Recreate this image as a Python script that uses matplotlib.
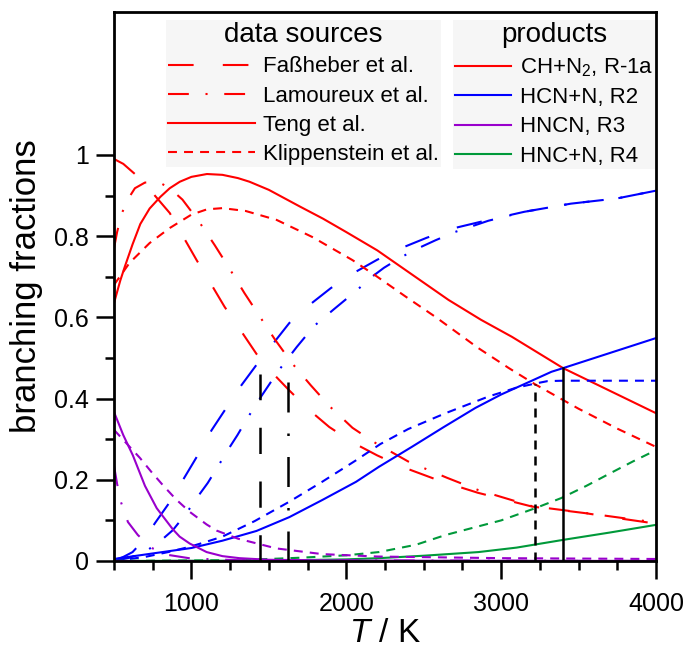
import matplotlib
matplotlib.use('Agg')
import matplotlib.pyplot as plt
from matplotlib.lines import Line2D
from matplotlib.ticker import FixedLocator, FixedFormatter

plt.rcParams['font.family'] = ['Liberation Sans', 'DejaVu Sans']
plt.rcParams['mathtext.fontset'] = 'custom'
plt.rcParams['mathtext.rm'] = 'Liberation Sans'
plt.rcParams['mathtext.it'] = 'Liberation Sans:italic'
plt.rcParams['font.size'] = 18

# ---- data ----
# R-1a  CH + N2
T_teng_r1 = [500, 540, 570, 620, 670, 730, 800, 860, 925, 1000, 1100, 1200, 1300, 1375, 1500, 1700,
             1850, 2000, 2200, 2660, 2870, 3070, 3400, 4000]
teng_r1 = [0.635, 0.69, 0.725, 0.78, 0.83, 0.868, 0.897, 0.918, 0.934, 0.946, 0.953, 0.951, 0.943, 0.934,
           0.914, 0.873, 0.843, 0.81, 0.765, 0.643, 0.594, 0.552, 0.475, 0.364]

T_klip_r1 = [500, 600, 730, 860, 1000, 1100, 1200, 1350, 1550, 1780, 2040, 2200, 2380, 2580, 2850, 3050,
             3220, 3500, 3750, 4000]
klip_r1 = [0.68, 0.734, 0.783, 0.82, 0.853, 0.866, 0.869, 0.862, 0.84, 0.798, 0.741, 0.70, 0.652, 0.60,
           0.525, 0.475, 0.435, 0.375, 0.326, 0.281]

T_fass_r1 = [500, 560, 620, 690, 750, 860, 945, 1035, 1130, 1214, 1323, 1420, 1516, 1632, 1760, 1890,
             2050, 2200, 2360, 2600, 2850, 3200, 3540, 3800, 4000]
fass_r1 = [0.99, 0.978, 0.958, 0.935, 0.906, 0.857, 0.80, 0.74, 0.68, 0.626, 0.565, 0.51, 0.466, 0.42,
           0.372, 0.33, 0.29, 0.26, 0.232, 0.198, 0.168, 0.134, 0.118, 0.103, 0.092]

T_lam_r1 = [500, 520, 551, 600, 635, 700, 790, 860, 942, 1047, 1150, 1246, 1342, 1445, 1540, 1650, 1770,
            1895, 2040, 2178, 2400, 2650, 2850, 3200, 3550, 3800, 4000]
lam_r1 = [0.77, 0.81, 0.857, 0.897, 0.918, 0.932, 0.933, 0.918, 0.89, 0.837, 0.778, 0.72, 0.66, 0.60,
          0.545, 0.487, 0.433, 0.38, 0.328, 0.293, 0.245, 0.205, 0.175, 0.135, 0.118, 0.105, 0.095]

# R2  HCN + N
T_teng_r2 = [500, 776, 1000, 1200, 1420, 1632, 1844, 2063, 2211, 2423, 2630, 2834, 3000, 3175, 3325, 3400,
             3700, 4000]
teng_r2 = [0.005, 0.02, 0.032, 0.05, 0.074, 0.108, 0.15, 0.195, 0.232, 0.281, 0.33, 0.377, 0.41, 0.44,
           0.466, 0.475, 0.512, 0.549]

T_klip_r2 = [500, 700, 850, 989, 1085, 1200, 1407, 1632, 1844, 2063, 2220, 2400, 2641, 2918, 3100, 3220,
             3300, 3400, 4000]
klip_r2 = [0.0, 0.01, 0.022, 0.035, 0.046, 0.06, 0.098, 0.146, 0.195, 0.248, 0.288, 0.325, 0.364, 0.405,
           0.427, 0.437, 0.443, 0.444, 0.444]

T_fass_r2 = [500, 560, 620, 700, 764, 860, 957, 1040, 1130, 1220, 1323, 1420, 1535, 1632, 1760, 1900,
             2060, 2200, 2358, 2519, 2700, 2918, 3150, 3450, 3750, 4000]
fass_r2 = [0.002, 0.01, 0.022, 0.055, 0.093, 0.145, 0.207, 0.26, 0.322, 0.374, 0.433, 0.483, 0.539, 0.586,
           0.63, 0.672, 0.712, 0.742, 0.771, 0.796, 0.82, 0.84, 0.86, 0.88, 0.893, 0.912]

T_lam_r2 = [500, 600, 700, 808, 880, 968, 1040, 1105, 1170, 1233, 1297, 1362, 1450, 1561, 1680, 1793,
            1920, 2063, 2166, 2243, 2358, 2480, 2577, 2700, 2918, 3150, 3450, 3750, 4000]
lam_r2 = [0.0, 0.008, 0.022, 0.052, 0.076, 0.118, 0.158, 0.192, 0.232, 0.272, 0.31, 0.352, 0.405, 0.468,
          0.527, 0.579, 0.62, 0.665, 0.70, 0.722, 0.749, 0.773, 0.79, 0.81, 0.838, 0.86, 0.88, 0.893, 0.912]

# R3  HNCN
T_teng_r3 = [500, 560, 622, 700, 776, 880, 924, 989, 1098, 1200, 1310, 1500, 2000, 4000]
teng_r3 = [0.367, 0.31, 0.26, 0.185, 0.13, 0.078, 0.06, 0.043, 0.022, 0.012, 0.007, 0.003, 0.001, 0.0]

T_klip_r3 = [500, 580, 667, 740, 815, 900, 989, 1098, 1162, 1300, 1394, 1548, 1844, 2200, 3000, 4000]
klip_r3 = [0.323, 0.29, 0.254, 0.22, 0.187, 0.152, 0.121, 0.09, 0.075, 0.055, 0.046, 0.031, 0.017, 0.011,
           0.007, 0.005]

T_lam_r3 = [500, 520, 545, 590, 654, 744, 850, 1000, 1300, 4000]
lam_r3 = [0.235, 0.19, 0.145, 0.096, 0.064, 0.032, 0.015, 0.006, 0.002, 0.0]

T_fass_r3 = [500, 4000]
fass_r3 = [0.0, 0.0]

# R4  HNC + N
T_teng_r4 = [500, 1500, 2000, 2211, 2500, 2854, 3100, 3400, 3700, 4000]
teng_r4 = [0.0, 0.001, 0.004, 0.007, 0.013, 0.022, 0.033, 0.052, 0.07, 0.089]

T_klip_r4 = [500, 1200, 1500, 1700, 2000, 2211, 2450, 2641, 2850, 3000, 3220, 3388, 3550, 3709, 3850, 4000]
klip_r4 = [0.0, 0.002, 0.005, 0.008, 0.014, 0.022, 0.04, 0.064, 0.085, 0.10, 0.13, 0.155, 0.185, 0.217,
           0.245, 0.273]

T_fass_r4 = [500, 4000]
fass_r4 = [0.0, 0.0]
T_lam_r4 = [500, 4000]
lam_r4 = [0.0, 0.0]

# crossing points of R-1a and R2 for each source
cross_T = [1440, 1625, 3220, 3400]
cross_y = [0.46, 0.485, 0.435, 0.475]

sources = ['Faßheber et al.', 'Lamoureux et al.', 'Teng et al.', 'Klippenstein et al.']
products = ['CH+N$_2$, R-1a', 'HCN+N, R2', 'HNCN, R3', 'HNC+N, R4']

# ---- styles ----
red, blue, purple, green = '#ff0000', '#0000ff', '#9900cc', '#00993a'
colors = [red, blue, purple, green]
styles = [(0, (12.3, 14)), (0, (10, 8, 1, 8)), '-', (0, (4.3, 3.4))]
vstyles = [(0, (10.5, 11)), (0, (12, 8.4, 1, 8.4)), (0, (3.6, 2.8)), '-']
lw = 1.5

fig = plt.figure(figsize=(6.88, 6.52), dpi=100)
ax = fig.add_axes([114 / 688, 1 - 561 / 652, 542 / 688, 549 / 652])

curves = [
    [(T_fass_r1, fass_r1), (T_fass_r2, fass_r2), (T_fass_r3, fass_r3), (T_fass_r4, fass_r4)],
    [(T_lam_r1, lam_r1), (T_lam_r2, lam_r2), (T_lam_r3, lam_r3), (T_lam_r4, lam_r4)],
    [(T_teng_r1, teng_r1), (T_teng_r2, teng_r2), (T_teng_r3, teng_r3), (T_teng_r4, teng_r4)],
    [(T_klip_r1, klip_r1), (T_klip_r2, klip_r2), (T_klip_r3, klip_r3), (T_klip_r4, klip_r4)],
]

# HNCN drawn on top of HNC+N, as in the original
zorders = [2, 2, 2.2, 2.1]
for i in range(len(curves)):
    for j in range(len(curves[i])):
        x, y = curves[i][j]
        ax.plot(x, y, color=colors[j], linestyle=styles[i], lw=lw, zorder=zorders[j])

for i in range(len(cross_T)):
    ax.plot([cross_T[i], cross_T[i]], [0, cross_y[i]], color='black', linestyle=vstyles[i], lw=1.8,
            zorder=3)

ax.set_xlim(500, 4000)
ax.set_ylim(0, 1.352)

ax.xaxis.set_major_locator(FixedLocator([1000, 2000, 3000, 4000]))
ax.xaxis.set_minor_locator(FixedLocator([500, 750, 1250, 1500, 1750, 2250, 2500, 2750, 3250, 3500, 3750]))
ax.yaxis.set_major_locator(FixedLocator([0, 0.2, 0.4, 0.6, 0.8, 1.0]))
ax.yaxis.set_major_formatter(FixedFormatter(['0', '0.2', '0.4', '0.6', '0.8', '1']))
ax.yaxis.set_minor_locator(FixedLocator([0.1, 0.3, 0.5, 0.7, 0.9]))

ax.tick_params(which='major', direction='out', length=13, width=1.8, labelsize=18, pad=5)
ax.tick_params(which='minor', direction='out', length=6.5, width=1.8)
ax.tick_params(axis='x', which='major', pad=9)
for sp in ax.spines.values():
    sp.set_linewidth(2)

ax.set_xlabel('$T$ / K', fontsize=24, labelpad=2)
ax.set_ylabel('branching fractions', fontsize=25, labelpad=8)

# ---- legends ----
h1 = [Line2D([], [], color=red, lw=lw, linestyle=s) for s in styles]
leg1 = ax.legend(h1, sources, title='data sources', loc='upper left',
                 bbox_to_anchor=(166 / 688, 1 - 20 / 652), bbox_transform=fig.transFigure,
                 fontsize=16, title_fontsize=20, handlelength=3.9, handletextpad=0.35,
                 borderpad=0.1, labelspacing=0.37, borderaxespad=0, fancybox=False, framealpha=1)
leg1.get_frame().set_facecolor('#f6f6f6')
leg1.get_frame().set_edgecolor('none')
ax.add_artist(leg1)

h2 = [Line2D([], [], color=c, lw=lw) for c in colors]
leg2 = ax.legend(h2, products, title='products', loc='upper left',
                 bbox_to_anchor=(453 / 688, 1 - 20 / 652), bbox_transform=fig.transFigure,
                 fontsize=16, title_fontsize=20, handlelength=2.5, handletextpad=0.4,
                 borderpad=0.1, labelspacing=0.37, borderaxespad=0, fancybox=False, framealpha=1)
leg2.get_frame().set_facecolor('#f6f6f6')
leg2.get_frame().set_edgecolor('none')

fig.savefig('out.png', dpi=100)
